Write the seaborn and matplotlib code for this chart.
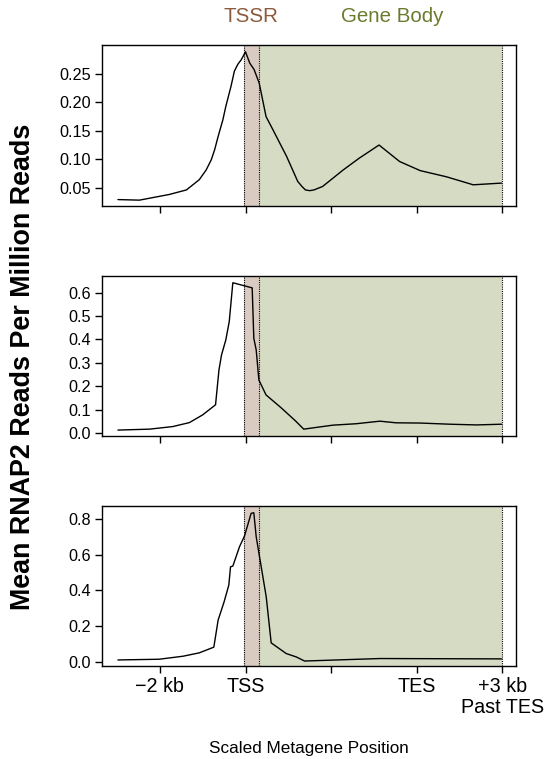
import numpy as np
import pandas as pd
import matplotlib
matplotlib.use("Agg")
import matplotlib.pyplot as plt
import seaborn as sns

# ---- data (x in scaled metagene units: -2kb=-1, TSS=0, TES=2, +3kb past TES=3)
p1_x = [-1.49, -1.24, -0.89, -0.69, -0.54, -0.46, -0.40, -0.36, -0.32, -0.265, -0.23, -0.17, -0.13,
        -0.09, -0.05, 0.00, 0.05, 0.10, 0.16, 0.24, 0.32, 0.48, 0.61, 0.66, 0.70, 0.75, 0.80, 0.90,
        1.14, 1.33, 1.56, 1.80, 2.04, 2.35, 2.66, 2.99]
p1_y = [0.029, 0.028, 0.038, 0.046, 0.064, 0.081, 0.099, 0.117, 0.140, 0.169, 0.193, 0.228, 0.255,
        0.267, 0.275, 0.289, 0.269, 0.258, 0.234, 0.175, 0.152, 0.105, 0.061, 0.052, 0.046, 0.0447,
        0.046, 0.052, 0.081, 0.102, 0.125, 0.096, 0.080, 0.069, 0.055, 0.058]

p2_x = [-1.49, -1.12, -0.85, -0.655, -0.50, -0.35, -0.31, -0.28, -0.23, -0.19, -0.148, 0.078,
        0.097, 0.125, 0.156, 0.24, 0.42, 0.59, 0.68, 1.02, 1.29, 1.57, 1.76, 2.04, 2.39, 2.70, 2.99]
p2_y = [0.013, 0.017, 0.028, 0.045, 0.078, 0.121, 0.270, 0.334, 0.398, 0.476, 0.642, 0.620,
        0.405, 0.355, 0.227, 0.163, 0.107, 0.050, 0.017, 0.034, 0.040, 0.051, 0.044, 0.043, 0.038, 0.035, 0.038]

p3_x = [-1.49, -1.01, -0.73, -0.54, -0.37, -0.32, -0.25, -0.195, -0.175, -0.148, -0.07, -0.012,
        0.066, 0.097, 0.125, 0.164, 0.242, 0.30, 0.476, 0.593, 0.69, 1.57, 2.99]
p3_y = [0.009, 0.013, 0.030, 0.049, 0.081, 0.233, 0.336, 0.430, 0.533, 0.537, 0.646, 0.706,
        0.834, 0.837, 0.702, 0.589, 0.364, 0.105, 0.045, 0.026, 0.003, 0.017, 0.015]

tick_pos = [-1, 0, 1, 2, 3]
tick_labels = ["\u22122 kb", "TSS", "", "TES", "+3 kb\nPast TES"]

tssr_range = (-0.02, 0.16)
body_range = (0.16, 3.0)

panels = [
    (p1_x, p1_y, (0.0177, 0.301), [0.05, 0.10, 0.15, 0.20, 0.25], "{:.2f}"),
    (p2_x, p2_y, (-0.011, 0.672), [0.0, 0.1, 0.2, 0.3, 0.4, 0.5, 0.6], "{:.1f}"),
    (p3_x, p3_y, (-0.025, 0.875), [0.0, 0.2, 0.4, 0.6, 0.8], "{:.1f}"),
]

sns.set_style("ticks")
plt.rcParams['font.family'] = ['Liberation Sans', 'DejaVu Sans']
plt.rcParams['text.color'] = 'black'
plt.rcParams['axes.labelcolor'] = 'black'
plt.rcParams['xtick.color'] = 'black'
plt.rcParams['ytick.color'] = 'black'

W, H = 551, 759
fig = plt.figure(figsize=(W / 100, H / 100), dpi=100)

boxes = [(45, 206), (275.7, 435.7), (506, 666)]
left_px, right_px = 101.7, 516

tssr_fill = "#D9CBC1"
body_fill = "#D6DBC3"

for i, ((xs, ys, ylim, yt, fmt), (top, bot)) in enumerate(zip(panels, boxes)):
    ax = fig.add_axes([left_px / W, 1 - bot / H, (right_px - left_px) / W, (bot - top) / H])
    ax.axvspan(*tssr_range, color=tssr_fill, lw=0, zorder=0)
    ax.axvspan(*body_range, color=body_fill, lw=0, zorder=0)
    for xv in (tssr_range[0], tssr_range[1], body_range[1]):
        ax.axvline(xv, color="black", lw=0.8, ls=(0, (1, 1)), zorder=1)
    df = pd.DataFrame({"x": xs, "y": ys})
    sns.lineplot(data=df, x="x", y="y", ax=ax, color="black", lw=1.0, sort=False, zorder=3)
    ax.set_xlim(-1.68, 3.16)
    ax.set_ylim(*ylim)
    ax.set_yticks(yt)
    ax.set_yticklabels([fmt.format(v) for v in yt], fontsize=11.7, color="black")
    ax.set_xticks(tick_pos)
    if i == 2:
        ax.set_xticklabels(tick_labels, fontsize=14.2, linespacing=1.15, color="black")
    else:
        ax.set_xticklabels([])
    ax.set_xlabel("")
    ax.set_ylabel("")
    for s in ax.spines.values():
        s.set_linewidth(1.0)
        s.set_color("black")
    ax.tick_params(axis="both", direction="out", length=5, width=1.0, color="black", pad=3)
    ax.set_facecolor("white")

fig.text(250.7 / W, 1 - 16 / H, "TSSR", color="#8C5A3C", fontsize=14.8, ha="center", va="center")
fig.text(391.7 / W, 1 - 16 / H, "Gene Body", color="#6B7B2E", fontsize=14.8, ha="center", va="center")
fig.text(23.5 / W, 1 - 366.5 / H, "Mean RNAP2 Reads Per Million Reads", rotation=90,
         fontsize=19.4, fontweight="bold", ha="center", va="center", color="black")
fig.text(309 / W, 1 - 748 / H, "Scaled Metagene Position", fontsize=12.3, ha="center", va="center",
         color="black")

fig.savefig("out.png", dpi=100)
